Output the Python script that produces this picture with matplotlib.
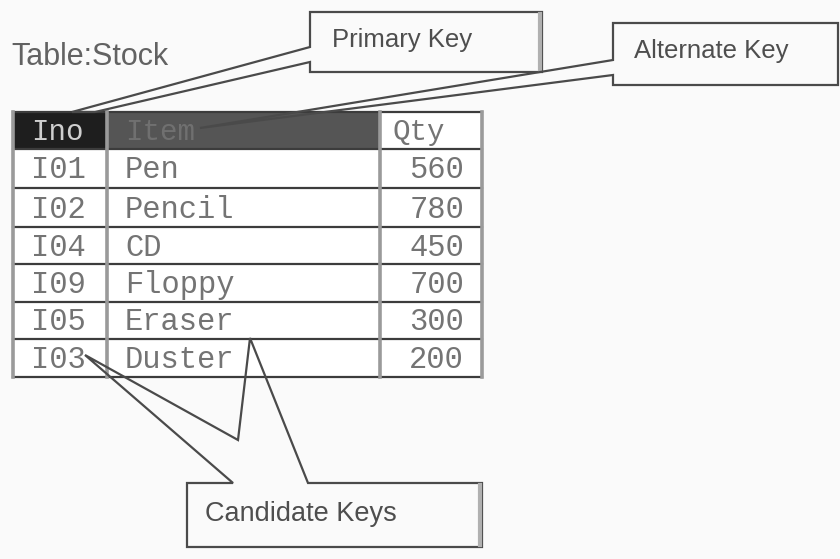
import matplotlib.pyplot as plt
from matplotlib.patches import Polygon, Rectangle

# Table data
headers = ['Ino', 'Item', 'Qty']
ino = ['I01', 'I02', 'I04', 'I09', 'I05', 'I03']
items = ['Pen', 'Pencil', 'CD', 'Floppy', 'Eraser', 'Duster']
qty = [560, 780, 450, 700, 300, 200]

# Callout labels
title = 'Table:Stock'
callouts = ['Primary Key', 'Alternate Key', 'Candidate Keys']

# Layout (pixel coordinates, y grows downward)
col_x = [13, 107, 380, 482]
row_y = [112, 149, 188, 227, 264, 302, 339, 377]

fig = plt.figure(figsize=(8.4, 5.59), dpi=100)
fig.patch.set_facecolor('#fafafa')
ax = fig.add_axes([0, 0, 1, 1])
ax.set_xlim(0, 840)
ax.set_ylim(559, 0)
ax.axis('off')

mono = 'Liberation Mono'
sans = 'Liberation Sans'
cell_col = '#747474'

# table body background
ax.add_patch(Rectangle((col_x[0], row_y[0]), col_x[-1] - col_x[0], row_y[-1] - row_y[0],
                       facecolor='white', edgecolor='none', zorder=1))
# header cells
ax.add_patch(Rectangle((col_x[0], row_y[0]), col_x[1] - col_x[0], row_y[1] - row_y[0],
                       facecolor='#1e1e1e', edgecolor='none', zorder=2))
ax.add_patch(Rectangle((col_x[1], row_y[0]), col_x[2] - col_x[1], row_y[1] - row_y[0],
                       facecolor='#555555', edgecolor='none', zorder=2))

# grid lines
for y in row_y:
    ax.plot([col_x[0], col_x[-1]], [y, y], color='#3c3c3c', lw=1.6, zorder=3)
for x in col_x:
    ax.plot([x, x], [row_y[0], row_y[-1]], color='#9a9a9a', lw=2.6, zorder=3)

# header text
hy = (row_y[0] + row_y[1]) / 2 + 1
ax.text(31, hy, headers[0], family=mono, fontsize=21, color='#cfcfcf', va='center', zorder=4)
ax.text(125, hy, headers[1], family=mono, fontsize=21, color='#707070', va='center', zorder=4)
ax.text(393, hy, headers[2], family=mono, fontsize=21, color=cell_col, va='center', zorder=4)

# body text
for i in range(len(ino)):
    cy = (row_y[i + 1] + row_y[i + 2]) / 2 + 2
    ax.text(31, cy, ino[i], family=mono, fontsize=22, color=cell_col, va='center', zorder=4)
    ax.text(125, cy, items[i], family=mono, fontsize=22, color=cell_col, va='center', zorder=4)
    ax.text(464, cy, str(qty[i]), family=mono, fontsize=22, color=cell_col,
            va='center', ha='right', zorder=4)

# title
ax.text(11, 57, title, family=sans, fontsize=22, color='#626262', va='center')

edge = '#4a4a4a'

# Primary key callout
pk = [(310, 12), (542, 12), (542, 72), (310, 72), (310, 62), (95, 112), (72, 112), (310, 47)]
ax.add_patch(Polygon(pk, closed=True, fill=False, edgecolor=edge, lw=1.6, zorder=5))
ax.plot([540, 540], [14, 70], color='#b0b0b0', lw=3, zorder=5)
ax.text(332, 40, callouts[0], family=sans, fontsize=18.5, color='#4e4e4e', va='center', zorder=6)

# Alternate key callout
ak = [(613, 23), (838, 23), (838, 85), (613, 85), (613, 75), (200, 128), (613, 60)]
ax.add_patch(Polygon(ak, closed=True, fill=False, edgecolor=edge, lw=1.6, zorder=5))
ax.text(634, 51, callouts[1], family=sans, fontsize=18.5, color='#4e4e4e', va='center', zorder=6)

# Candidate keys callout
ck = [(187, 483), (233, 483), (85, 355), (238, 440), (250, 338), (308, 483),
      (482, 483), (482, 547), (187, 547)]
ax.add_patch(Polygon(ck, closed=True, fill=False, edgecolor=edge, lw=1.6, zorder=5))
ax.plot([480, 480], [485, 545], color='#b0b0b0', lw=3, zorder=5)
ax.text(205, 514, callouts[2], family=sans, fontsize=19.5, color='#4e4e4e', va='center', zorder=6)

fig.savefig('out.png', dpi=100, facecolor=fig.get_facecolor())
